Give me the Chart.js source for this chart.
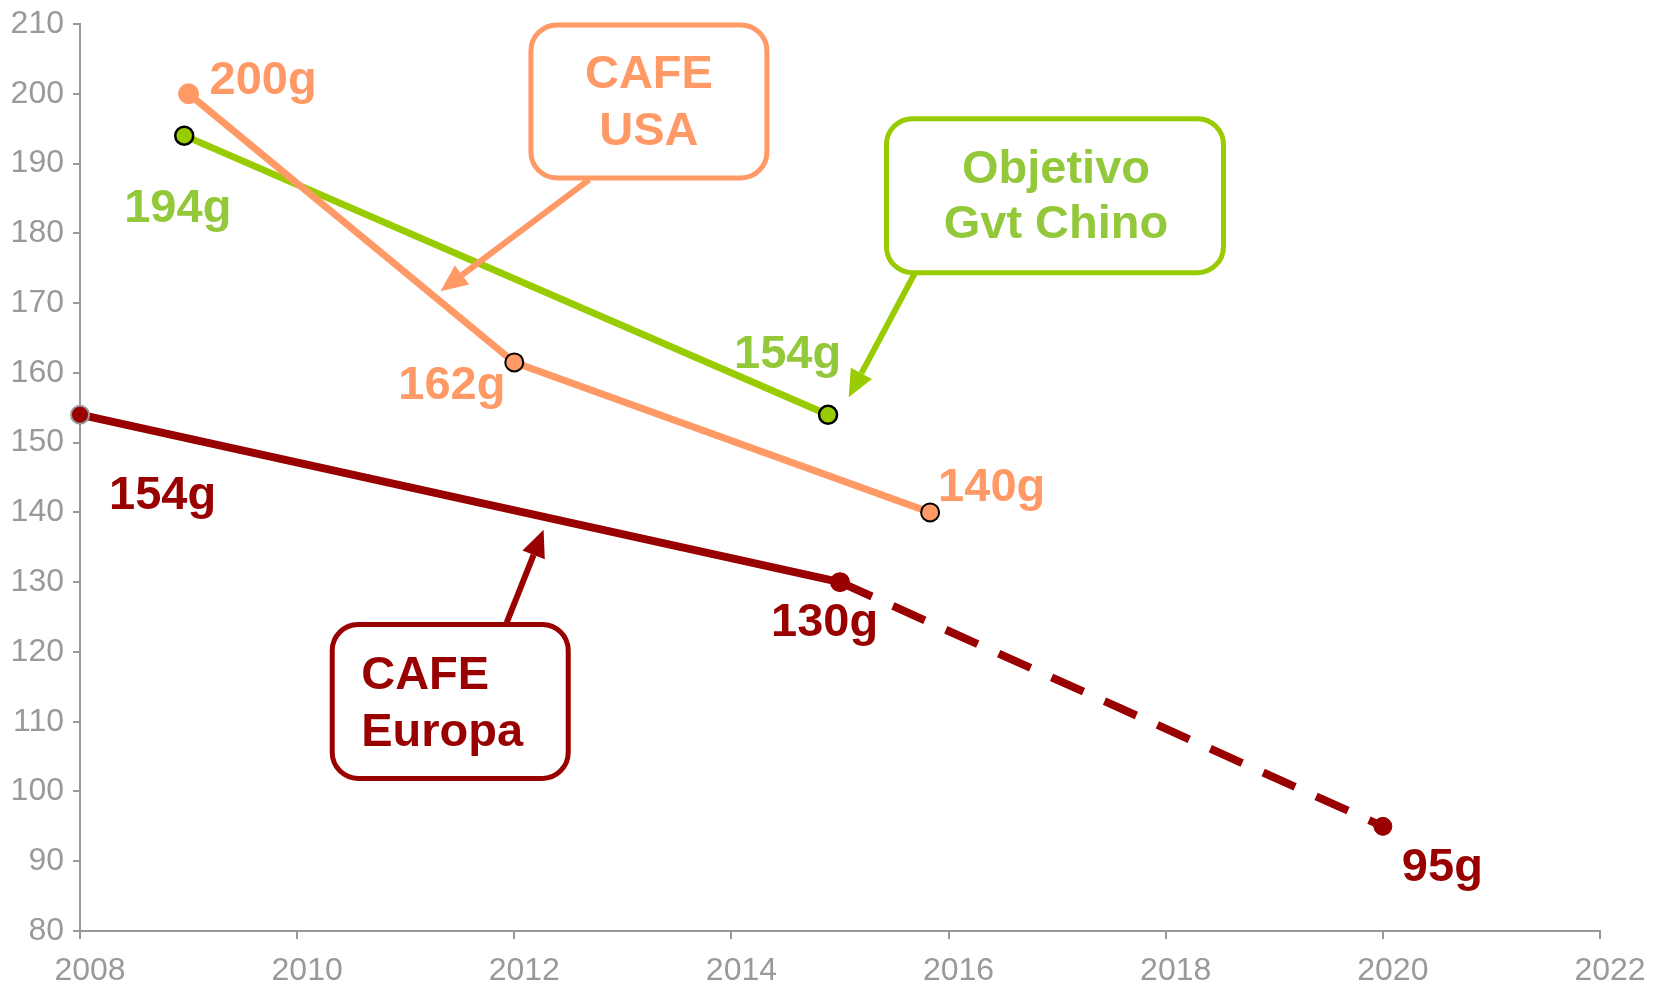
<!DOCTYPE html>
<html>
<head>
<meta charset="utf-8">
<script src="https://cdn.jsdelivr.net/npm/chart.js@4.4.1/dist/chart.umd.min.js"></script>
<style>
  body { margin: 0; background: #fff; }
  #wrap { width: 1664px; height: 987px; }
</style>
</head>
<body>
<div id="wrap"><canvas id="co2Chart" width="1664" height="987"></canvas></div>
<script>
// DATA (g CO2/km)

var europeYears = [2008, 2015];
var europeValues = [154, 130];
var europeLabels = ['154g', '130g'];

var europeTargetYears = [2015, 2020];
var europeTargetValues = [130, 95];
var europeTargetLabels = [null, '95g'];

var usaYears = [2009, 2012, 2015.83];
var usaValues = [200, 161.5, 140];
var usaLabels = ['200g', '162g', '140g'];

var chinaYears = [2008.96, 2014.89];
var chinaValues = [194, 154];
var chinaLabels = ['194g', '154g'];

var yTicks = { min: 80, max: 210, step: 10 };
var xTicks = { min: 2008, max: 2022, step: 2 };

// colours
var red = '#990000';
var orange = '#FF9966';
var green = '#99CC00';
var greenText = '#93C83A';
var axisGrey = '#999999';

function toPoints(xs, ys) {
  return xs.map((x, i) => ({ x: x, y: ys[i] }));
}

// label offsets in px from each point (left edge, baseline)
var labelOffsets = {
  europe: [[29, 94], [-69, 54]],
  europeTarget: [null, [19, 55]],
  usa: [[21, 0], [-116, 37], [8, -11]],
  china: [[-60, 86], [-94, -47]]
};

// CALLOUT BOXES (anchored in data units, size in px)
var callouts = [
  { lines: ['CAFE', 'USA'], color: orange, textColor: orange, cx: 2013.24, cy: 198.9, w: 236, h: 153,
    align: 'center', textDx: 0, baselines: [-13, 44],
    arrowFrom: [2012.69, 187.7], arrowTo: [2011.32, 171.7] },
  { lines: ['Objetivo', 'Gvt Chino'], color: green, textColor: greenText, cx: 2016.98, cy: 185.4, w: 337, h: 154,
    align: 'center', textDx: 1, baselines: [-13, 42],
    arrowFrom: [2015.69, 174.3], arrowTo: [2015.08, 156.5] },
  { lines: ['CAFE', 'Europa'], color: red, textColor: red, cx: 2011.41, cy: 112.9, w: 236, h: 154,
    align: 'left', textDx: -89, baselines: [-12, 45],
    arrowFrom: [2011.93, 124.2], arrowTo: [2012.27, 137.5] }
];

var fontFamily = "'Liberation Sans', Arial, sans-serif";

const annotationPlugin = {
  id: 'annotations',
  afterDatasetsDraw(chart) {
    const ctx = chart.ctx;
    const xs = chart.scales.x;
    const ys = chart.scales.y;

    // data labels
    const sets = [
      ['europe', 0, europeLabels, red],
      ['europeTarget', 1, europeTargetLabels, red],
      ['usa', 2, usaLabels, orange],
      ['china', 3, chinaLabels, greenText]
    ];
    ctx.save();
    ctx.font = 'bold 47px ' + fontFamily;
    ctx.textAlign = 'left';
    ctx.textBaseline = 'alphabetic';
    sets.forEach(([key, idx, labels, col]) => {
      const meta = chart.getDatasetMeta(idx);
      labels.forEach((txt, i) => {
        if (!txt) return;
        const pt = meta.data[i];
        const off = labelOffsets[key][i];
        ctx.fillStyle = col;
        ctx.fillText(txt, pt.x + off[0], pt.y + off[1]);
      });
    });
    ctx.restore();

    // callouts
    callouts.forEach((c) => {
      const px = xs.getPixelForValue(c.cx);
      const py = ys.getPixelForValue(c.cy);
      ctx.save();
      ctx.strokeStyle = c.color;
      ctx.fillStyle = '#fff';
      ctx.lineWidth = 5;
      ctx.beginPath();
      ctx.roundRect(px - c.w / 2, py - c.h / 2, c.w, c.h, 26);
      ctx.fill();
      ctx.stroke();

      ctx.fillStyle = c.textColor;
      ctx.font = 'bold 47px ' + fontFamily;
      ctx.textAlign = c.align;
      ctx.textBaseline = 'alphabetic';
      c.lines.forEach((ln, i) => {
        ctx.fillText(ln, px + c.textDx, py + c.baselines[i]);
      });

      // arrow
      const x1 = xs.getPixelForValue(c.arrowFrom[0]);
      const y1 = ys.getPixelForValue(c.arrowFrom[1]);
      const x2 = xs.getPixelForValue(c.arrowTo[0]);
      const y2 = ys.getPixelForValue(c.arrowTo[1]);
      const ang = Math.atan2(y2 - y1, x2 - x1);
      const headLen = 27, headW = 12;
      const bx = x2 - headLen * Math.cos(ang);
      const by = y2 - headLen * Math.sin(ang);
      ctx.strokeStyle = c.color;
      ctx.lineWidth = 6;
      ctx.beginPath();
      ctx.moveTo(x1, y1);
      ctx.lineTo(bx, by);
      ctx.stroke();
      ctx.fillStyle = c.color;
      ctx.beginPath();
      ctx.moveTo(x2, y2);
      ctx.lineTo(bx + headW * Math.sin(ang), by - headW * Math.cos(ang));
      ctx.lineTo(bx - headW * Math.sin(ang), by + headW * Math.cos(ang));
      ctx.closePath();
      ctx.fill();
      ctx.restore();
    });
  }
};

// CHART

const co2Chart = new Chart('co2Chart', {
  type: 'line',
  data: {
    datasets: [
      {
        label: 'CAFE Europa',
        data: toPoints(europeYears, europeValues),
        borderColor: red,
        borderWidth: 8,
        pointRadius: 9,
        pointBackgroundColor: red,
        pointBorderColor: [axisGrey, red],
        pointBorderWidth: 2,
        clip: false,
        order: 2
      },
      {
        label: 'CAFE Europa objetivo',
        data: toPoints(europeTargetYears, europeTargetValues),
        borderColor: red,
        borderWidth: 8,
        borderDash: [35, 23],
        pointRadius: 9,
        pointBackgroundColor: red,
        pointBorderColor: red,
        pointBorderWidth: 1,
        clip: false,
        order: 3
      },
      {
        label: 'CAFE USA',
        data: toPoints(usaYears, usaValues),
        borderColor: orange,
        borderWidth: 7,
        pointRadius: [10, 9, 9],
        pointBackgroundColor: orange,
        pointBorderColor: [orange, '#000', '#000'],
        pointBorderWidth: [1, 2, 2],
        clip: false,
        order: 0
      },
      {
        label: 'Objetivo Gvt Chino',
        data: toPoints(chinaYears, chinaValues),
        borderColor: green,
        borderWidth: 7,
        pointRadius: 9,
        pointBackgroundColor: green,
        pointBorderColor: '#000',
        pointBorderWidth: 2.5,
        clip: false,
        order: 1
      }
    ]
  },
  options: {
    responsive: false,
    animation: false,
    layout: { padding: { top: 24, right: 64, left: 0, bottom: 0 } },
    plugins: {
      legend: { display: false },
      tooltip: { enabled: false }
    },
    elements: { line: { tension: 0, borderCapStyle: 'butt' } },
    scales: {
      x: {
        type: 'linear',
        min: xTicks.min,
        max: xTicks.max,
        afterFit: (s) => { s.height = 56; },
        border: { color: axisGrey, width: 2 },
        grid: { drawOnChartArea: false, drawTicks: true, tickLength: 8, color: axisGrey, lineWidth: 2 },
        ticks: {
          stepSize: xTicks.step,
          color: axisGrey,
          padding: 13,
          labelOffset: 10,
          maxRotation: 0,
          font: { family: fontFamily, size: 32 },
          callback: (v) => String(v)
        }
      },
      y: {
        min: yTicks.min,
        max: yTicks.max,
        afterFit: (s) => { s.width = 80; s.paddingTop = 0; s.paddingBottom = 0; },
        border: { color: axisGrey, width: 2 },
        grid: { drawOnChartArea: false, drawTicks: true, tickLength: 7, color: axisGrey, lineWidth: 2 },
        ticks: {
          stepSize: yTicks.step,
          color: axisGrey,
          padding: 9,
          font: { family: fontFamily, size: 32 },
          callback: (v) => String(v)
        }
      }
    }
  },
  plugins: [annotationPlugin]
});
</script>
</body>
</html>
